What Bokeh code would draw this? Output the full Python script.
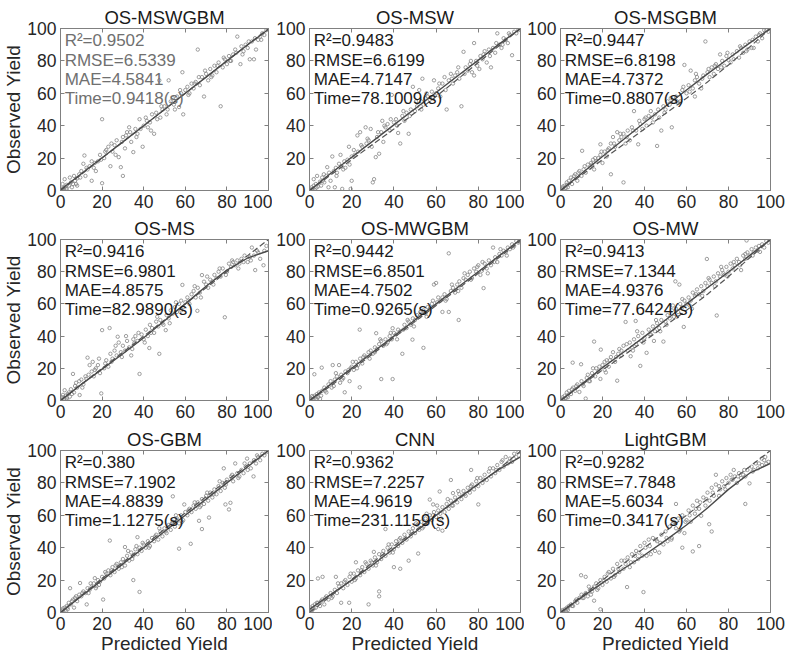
from bokeh.plotting import figure
from bokeh.models import Range1d, LinearAxis, Label, FixedTicker
from bokeh.layouts import column, row
from bokeh.embed import file_html
from bokeh.resources import INLINE

# ---------------- data ----------------
titles = ["OS-MSWGBM", "OS-MSW", "OS-MSGBM", "OS-MS", "OS-MWGBM", "OS-MW", "OS-GBM", "CNN", "LightGBM"]

r2 = ["0.9502", "0.9483", "0.9447", "0.9416", "0.9442", "0.9413", "0.380", "0.9362", "0.9282"]
rmse = ["6.5339", "6.6199", "6.8198", "6.9801", "6.8501", "7.1344", "7.1902", "7.2257", "7.7848"]
mae = ["4.5841", "4.7147", "4.7372", "4.8575", "4.7502", "4.9376", "4.8839", "4.9619", "5.6034"]
time_s = ["0.9418", "78.1009", "0.8807", "82.9890", "0.9265", "77.6424", "1.1275", "231.1159", "0.3417"]

ticks = [0, 20, 40, 60, 80, 100]
fit_x = [0, 10, 20, 30, 40, 50, 60, 70, 80, 90, 100]

fit_os_mswgbm = [0.5, 10.3, 20.2, 30, 40, 50, 60, 70, 80, 90, 99.5]
ref_os_mswgbm = [0, 10, 20, 30, 40, 50, 60, 70, 80, 90, 100]
fit_os_msw = [0, 10.5, 20.5, 30.5, 40.5, 50.5, 60.5, 70.5, 80.5, 90.5, 100]
ref_os_msw = [0, 9.5, 19, 28.5, 38, 48, 58, 68.5, 79, 89.5, 100]
fit_os_msgbm = [0, 10.5, 21, 31.5, 42, 52, 62, 72, 81.5, 91, 100]
ref_os_msgbm = [0, 9.5, 19, 28.5, 38, 47.5, 57, 67, 77.5, 88.5, 100]
fit_os_ms = [0, 10, 19.5, 29, 39, 49.5, 60, 71, 81, 88.5, 93]
ref_os_ms = [0, 10, 20, 30, 40, 50, 60, 70, 80, 90, 100]
fit_os_mwgbm = [0, 10, 20, 30, 40, 50, 60, 70, 80, 90, 100]
ref_os_mwgbm = [0, 9, 19, 29, 39, 49, 59, 69, 79, 89, 99]
fit_os_mw = [0, 10, 20.4, 30, 39.7, 50, 60, 70, 79.8, 90, 100]
ref_os_mw = [0, 9.5, 19, 28, 37, 46.5, 56, 66, 77, 88.5, 100]
fit_os_gbm = [0, 10, 20, 30, 40, 50, 60, 70, 80, 90, 100]
ref_os_gbm = [0, 10.5, 21, 31, 41, 51.5, 61.5, 71.5, 81.5, 91, 100]
fit_cnn = [2, 11, 20, 29.5, 39.5, 49.5, 60, 70, 79.5, 88.5, 96]
ref_cnn = [0, 10, 20.5, 31, 41, 50.5, 60, 69.5, 79, 89, 99.5]
fit_lightgbm = [0, 9.3, 18.3, 27, 35.5, 44.5, 54, 64.5, 76, 86, 92]
ref_lightgbm = [0, 10, 20, 30, 40, 50, 60, 70, 80, 90, 100]

pts_os_mswgbm = [(0.5,0.5),(1,1.5),(1.5,0.5),(2,2),(2.5,1),(3,3.5),(1,4),(2,7),(4,3),(5,5),(4.5,8),(6,4),(6.5,9),(7,6),(8,7.5),(9,10),(8,3),(10,12),(11,16.5),(11.5,21.6),(12,9),(13,13),(14,15),(15,6),(15,18),(16,14),(17,12),(18,18),(19,22),(20,4.5),(20,44),(21,20),(22,25),(23,27),(24,15),(25,24),(26,28),(27,31),(28,20.6),(29,14.4),(30,9),(30,33),(31,26),(32,36),(33,39),(34,30),(35,23.7),(36,38),(37,35),(38,44),(39.5,27),(40,40),(41,45),(42,39),(43,42),(44,47),(45,35),(46,48),(47.5,68),(48,45),(49,50),(50,52),(51,47),(52,68),(53,55),(54,57),(55,50),(56,58),(57,51.5),(58,60),(59,47),(58.6,73),(60,62),(61,64),(62,60),(63,66),(64,63),(65,67),(66,87),(67,65),(68,70),(69,58),(70,72),(71,68),(72,75),(73,71),(74,77),(75,73),(77,52),(76,79),(78,76),(79,81),(80,78),(81,83),(82,80),(83,84),(85,95),(84,87),(86.5,78),(87,89),(88,86),(89,90),(90,88),(91,81),(92,92),(93,81),(94,87),(95,93),(96,95),(97,97),(98,96),(99,99),
                 (3,1),(5.5,2),(7.5,4),(9.5,8),(12.5,14),(16.5,17),(19.5,19),(21.5,24),(24.5,29),(26.5,22),(29.5,30),(31.5,34),(33.5,36),(36.5,33),(38.5,38),(41.5,43),(43.5,37),(46.5,44),(48.5,52),(51.5,50),(54.5,53),(57.5,62),(61.5,59),(64.5,66),(66.5,70),(69.5,74),(72.5,70),(75.5,77),(78.5,82),(81.5,80),(84.5,85),(87.5,84),(90.5,92),(93.5,94),(96.5,93)]

pts_os_msw = [(0.5,0.5),(1,2),(1.5,1),(2,3),(2.5,0.5),(3,4),(3.6,9),(2,7),(4,2.5),(5,5.5),(5.5,3),(6,8),(6.8,10),(7,5),(8,9),(8.4,14.4),(9,2),(10,6),(10.8,21),(11.5,12),(12,2),(12.5,14),(13,11),(14,16.5),(14.7,22),(15.5,1),(15,15),(16,13),(17,14),(18,19),(18.7,27),(19.5,1),(20,6),(20,21),(21,25),(22.7,34),(23,24),(24,36),(25,27),(26.6,39),(27,29),(28,31),(29,38),(30,5),(30.6,7),(31.4,20.6),(32,33),(33,22.7),(34,36),(34.5,43),(35,30),(36,39),(37,41),(38,37),(39,59),(40,42),(41,44),(42,35.5),(43,29),(44,46),(45,43),(46,48),(47,35),(48,50),(49,64),(50,49),(51,52),(52,62),(53,55),(53.5,69),(54,53),(55,57),(56,58),(57,56),(58,61),(59,68),(60,60),(61,63),(62,58),(63,66),(64,70),(65,50),(66,68),(67,72),(68,66),(69,71),(70,73),(71,69),(72,52),(73,85.6),(74,76),(75,74),(76,78),(77,73),(78,71),(78,91),(79,80),(80.5,75),(81,83),(82,81),(83,86),(84,79),(85,87),(86,76),(87,88),(88,85),(89,97),(90,90),(91,88),(92,94),(93,93),(94,91),(95,96),(96,83.5),(97,98),(98,97),(99,99),
              (1.2,0.3),(3.3,1.8),(6.3,6),(9.3,11),(12.8,9),(16.5,18),(19,16),(21.5,22),(24.5,28),(27.5,32),(29.5,27),(32.5,36),(35.5,40),(38.5,44),(41.5,40),(44.5,49),(47.5,46),(50.5,55),(53,50),(55.5,60),(58.5,57),(61.5,66),(64.5,62),(67.5,69),(70.5,76),(73.5,72),(76.5,80),(79.5,77),(82.5,84),(85.5,83),(88.5,91),(91.5,90),(94.5,97)]

pts_os_msgbm = [(0.5,0.5),(1,1.5),(1.5,0.5),(2,3),(2.5,1.5),(3,5),(3.5,2),(4,6),(5,8),(5.5,4),(6,7),(7,10),(8,6),(9,12),(10,9),(10.3,24.5),(11,13),(12,11),(13,16),(14,14),(15,16),(15.5,19),(16,13),(17,18),(18,20),(19,22),(19,28.5),(20,17),(21,24),(22,21),(23,26),(24,10),(24,29),(25,33),(26,27),(27,36),(28,31),(29,33),(30,5),(30,35),(31,29),(32,37),(33,31),(34,39),(35,49),(36,37),(37,28.5),(38,41),(39,38),(40,44),(41,40),(42,46),(43,49),(44,42),(45,47),(46,27.5),(47,45),(48,37),(49,52),(50,50),(51,55),(52,53),(53,39),(54,55),(55,58),(56,54),(57,55),(58,62),(59,77.5),(60,60),(61,65),(62,74),(63,63),(64,68),(64,58),(65,70),(66,66),(67,63),(68,71),(69,92),(70,73),(71,70),(72,76),(73,72),(74,78),(75,75),(76,84),(77,80),(78,77),(79,83),(80,80.6),(81,79),(82,84),(84,86),(85,82),(86,88),(87,85),(88,90),(89,87),(90,92),(91,88),(92,88),(93,95),(94,92),(95,97),(96,94),(97,99),(98,99),(99,98),
                (1.2,2.5),(3.2,3.5),(6.5,9),(8.5,11),(11.5,15),(14.5,17),(16.5,20),(19.5,24),(22.5,25),(25.5,29),(28.5,35),(31.5,33),(34.5,37),(37.5,43),(40.5,45),(43.5,45),(46.5,50),(49.5,48),(52.5,57),(55.5,55),(58.5,64),(61.5,61),(64.5,72),(67.5,69),(70.5,75),(73.5,77),(76.5,76),(79.5,85),(82.5,81),(85.5,89),(88.5,86),(91.5,93),(94.5,96)]

pts_os_ms = [(0.5,0.5),(1,2),(1.5,1),(2,6.4),(2.5,3),(3,1.5),(3.5,4),(4,5),(4.5,2.4),(5,7),(6,16.5),(6.5,5),(7,9),(8,8),(9,12),(9.2,3.4),(10,13),(11,10),(12,15),(12.4,13.5),(13,26.6),(14,22),(15,18),(15.5,24),(16,15),(17,20),(18,22),(19,17),(19.6,4.4),(20,43.7),(21,20),(22,25),(23,21),(23.6,45),(24,29),(25,26),(26,31),(27,28),(27.5,39.6),(28,36),(29,30),(30,34),(31,31),(32,37),(33,33),(34,28),(35,38),(35.5,35.6),(36,40),(37,37),(38,16.5),(39,41),(40,38),(41,44),(42,40),(42.7,32.6),(43,47),(44,45),(45,42),(46,49),(47,46),(47.5,29),(48,50),(49,48),(50.6,43.7),(51,53),(52,51),(53,56),(54,54),(55,58),(56,55),(57,60),(58,62),(58.6,71.8),(59,58),(60,61),(61,64),(62,60),(63,66),(64,68),(65,64),(65.8,55.7),(66,70),(67,67),(68,77.9),(69,73.8),(70,72),(71,70),(72,75),(73,74),(74,78),(75,76),(76,80),(77,77),(78,82),(79,51.7),(80,80),(81,85),(82,83),(83,86),(84,84),(85,87),(86,85),(87,88),(88,86),(90,86),(91,89),(92,95),(93,90),(93.6,81),(95,92),(96,88),(97.6,84),(98,93),(99,96),
             (1.2,3.5),(3.2,0.5),(5.5,4),(7.5,11),(10.5,8),(13.5,16),(16.5,19),(18.5,26),(21.5,23),(24.5,24),(26.5,34),(29.5,27),(31.5,40),(34.5,32),(37.5,42),(40.5,36),(43.5,42),(46.5,52),(49.5,47),(52.5,48),(55.5,61),(58,56),(61.5,62),(64.5,71),(67.5,64),(70.5,77),(73.5,72),(76.5,82),(79.5,78),(82.5,87),(85.5,82),(88.5,90),(91.5,87),(94.5,93)]

pts_os_mwgbm = [(0.5,0.5),(1,1),(1.5,2),(2,0.5),(2.3,16.3),(2.5,3),(3,1),(3.5,4),(4,2),(4.5,5),(5,1),(5.8,20.4),(6,6),(7,8),(8,5),(9,10),(10,12),(11,22),(11.5,9),(12,13),(13,15),(14,22),(14.5,11),(15,16),(16,14),(16.7,5.1),(17,18),(18,17),(19,12),(19.5,20),(20,21),(21,19),(22,24),(23,22),(23.8,8.2),(23.8,44),(24,26),(25,23),(26,28),(27,27),(28,30),(29,31),(30,29),(31,33),(31.6,41.8),(32,32),(33,35),(34,13.3),(34,37),(35,34),(36,38),(37,36),(38,40),(39,38),(39.4,13.3),(39.4,44.9),(40,42),(41,41),(42,44),(43,43),(44,29),(45,47),(46,45),(47,49),(48,47),(48.8,37.8),(49,51),(50,50),(51,53),(52,52),(53,55),(54,32.7),(54,56),(55,54),(56,58),(57,57),(58,60),(59,72),(60,73),(60.5,61),(62,62),(63,55),(63,64),(64,66),(65,63),(66,55),(66,91.4),(67,68),(68,70),(69,67),(70,72),(70.7,50),(71,74),(72,70),(73,76),(74,75),(75,78),(76,80),(77,76),(78,82),(79,80),(80,84),(81,78),(81.7,80.6),(82.5,69.8),(83,85),(84,82),(85,87),(86,84),(87,95),(88,89),(89,86),(90,91),(91,90),(92,93),(93,92),(94,95),(95,94),(96,97),(97,96),(98,99),(99,98),
                (1.2,2.8),(3.2,2.4),(5.5,3),(7.5,6),(10.5,8),(12.5,17),(15.5,13),(18.5,19),(20.5,24),(22.5,20),(25.5,27),(28.5,26),(31,30),(33.5,38),(36.5,35),(38.5,42),(41.5,38),(44.5,44),(46.5,50),(49.5,46),(52.5,55),(55.5,52),(58.5,62),(61,64),(64.5,62),(67.5,72),(70.5,68),(73.5,79),(76.5,75),(79.5,83),(82,86),(84.5,79),(87.5,86),(90.5,94),(93.5,90),(96.5,95)]

pts_os_mw = [(0.5,0.5),(1,2),(1.5,0.5),(2,3),(2.5,1.5),(3,5),(3.5,2),(4,6),(5,4),(5.8,23.5),(6,8),(7,6),(8,10),(9,5.3),(9.8,22.5),(10,12),(11,9),(12,1.2),(12.5,14),(13,16),(14,12),(15,17),(16,36.6),(16.5,15),(17,20),(18,18),(19,13.4),(19.2,31.6),(20,22),(21,19),(21.6,17.4),(22,25),(23,21),(24,27),(25,30),(26,24),(27,12.3),(27.5,29),(28,32),(29,28),(30,34),(31,48.8),(32,31),(33,36),(33.4,27.5),(34,33),(35,38),(35.8,49.4),(36,35),(37,40),(38,21.5),(38.5,37),(39,42),(40,39),(41,29.6),(42,44),(43,41),(44,46),(44.5,37),(45,43),(46,48),(47,45),(48,50),(49,36.6),(50,49),(51,53),(52,51),(53,56),(54,52),(54.7,74),(55,57),(56,55),(56.6,72),(57,60),(58,58),(58.7,45.7),(59,62),(60,60),(61,64),(62,62),(62.6,57),(63,67),(64,65),(65,69),(66,66),(67,71),(68,68),(69,73),(69.7,87.9),(70,71),(71,75),(72,73),(73,77),(74,74),(74.4,52.8),(75,79),(76,77),(77,81),(77.6,79),(78,78),(79,83),(80,80),(81,85),(82,82),(83,84),(84,88),(85,86),(86,81),(87,90),(88,88),(88.6,99.4),(89,92),(90,90),(91,94),(92,92),(93,95),(94,93),(95,92.3),(96,97),(97,95),(98,99),(99,98),
             (1.2,1),(3.3,3),(5.5,7),(7.5,9),(10.5,10),(13.5,12),(15.5,20),(18.5,21),(21,24),(23.5,25),(26.5,27),(29,31),(31.5,35),(34.5,31),(36.5,43),(39.5,36),(42.5,41),(45.5,50),(47.5,43),(50.5,47),(53.5,59),(55.5,52),(58,63),(61.5,59),(64.5,66),(67.5,65),(70.5,76),(73.5,71),(76.5,83),(79.5,77),(82.5,86),(85.5,84),(88,91),(91.5,90),(94.5,96)]

pts_os_gbm = [(0.5,0.5),(1,1.5),(1.5,0.5),(2,3),(2.5,1),(3,4),(3.5,2),(4,6),(4.6,15),(5,5),(6,8),(6.5,3),(7,9),(8,7),(9,11),(9.4,18.2),(10,10),(11,13),(12,12),(12.6,5),(13,15),(14,14),(15,16),(16,18),(16.5,21.2),(17,15),(17.3,16.2),(18,20),(19,19),(20,22),(20.5,8),(21,21),(22,24),(23,26),(23.7,44.4),(24,23),(25,28),(26,25),(27,30),(28,27),(29,31),(30,33),(31,40.4),(31,29),(32,35),(33,32),(34,37),(35,20),(35,35),(36,39),(37,46.5),(37,36),(38,12.7),(38,40),(39,38),(40,42),(41,40),(42,44),(43,41),(44,46),(45,44),(46,48),(47,45),(48,50),(49,47),(50,52),(51,49),(52,54),(53,51),(54,71.7),(54,56),(55,53),(56,58),(57,39.4),(57,55),(58,60),(59,57),(59.5,66.7),(60,62),(61,60),(62,64),(62.6,42.4),(63,62),(64,66),(65,64),(66,68),(66.6,56.6),(67,65),(68,51.5),(68,70),(69,67),(70,72),(71,69),(71.4,58.6),(72,74),(73,71),(74,76),(75,73),(76,78),(77,75),(78,80),(78.5,89),(79,77),(79.3,66.7),(80,82),(81,63.6),(81.7,67.7),(82,84),(83,81),(84,92),(85,86),(86,84),(87,88),(88,86),(89,90),(89.7,95),(90,88),(91,92),(92.8,84),(93,94),(94,92),(95,96),(96,94),(97,98),(98,97),(99,99),
              (1.2,2.5),(3.3,3),(5.5,7),(7.5,10),(10.5,12),(13.5,12),(14.5,18),(18.5,17),(21.5,25),(24.5,26),(26.5,29),(29.5,28),(32.5,38),(34.5,33),(36.5,41),(39.5,43),(42.5,40),(45.5,47),(47.5,52),(50.5,50),(53.5,55),(55.5,60),(58.5,56),(61.5,63),(64.5,68),(67.5,66),(70.5,74),(73.5,73),(76.5,81),(79.5,79),(82.5,85),(85.5,83),(88.5,92),(91.5,89),(94.5,97)]

pts_cnn = [(0,2),(0.5,3),(1,1),(1.5,4),(2,2.5),(2.5,5),(3,3),(4,21),(4,6),(5,4),(6.2,22),(6,8),(7,5),(8,10),(9,8),(10,12),(11,10),(12,14),(12.5,22),(13,12),(14,16),(15,6),(15,18),(16,15),(17,20),(18,17),(18.8,6),(19,22),(20,19),(21,24),(22,31),(22,21),(23,26),(24,23),(25,28),(26,25),(27,30),(28,5),(28,27),(29,32),(30,29),(30.5,37.4),(31,34),(32,31),(33,10),(33,13),(33,36),(34,33),(35,38),(36,51.5),(36,35),(37,40),(38,37),(39,42),(40,28),(40,39),(41,44),(42,41),(43,27),(43,46),(44,43),(45,48),(46,45),(47,32),(47,50),(48,47),(49,52),(50,49),(51,54),(51.5,36.4),(52,51),(53,56),(54,53),(55,58),(56,55),(57,69.7),(57,60),(58,57),(58.6,66.7),(59,62),(60,59),(61,51.5),(61,63),(61.7,74.7),(62,61),(63,50.5),(63,65),(64,62),(65,67),(66,64),(67,81.8),(67,69),(68,73.7),(68,66),(69,71),(70,68),(71,73),(72,70),(73,75),(74,72),(75,77),(76,74),(76.6,88),(77,79),(78,76),(79,81),(80,66.7),(80,78),(81,83),(82,80),(83,85),(84,81.8),(85,87),(86,84),(87,89),(88,86),(89,91),(90,88),(91,93),(92,90),(93,96),(94,92),(95,95),(96,93),(97,98),(98,96),(99,99),
           (0.5,0.5),(1.5,2),(3.5,6),(5.5,7),(7.5,9),(10.5,9),(13.5,18),(16.5,19),(19.5,24),(21.5,20),(24.5,26),(26.5,31),(29.5,31),(31.5,29),(34.5,36),(37.5,42),(39.5,37),(42.5,45),(45.5,46),(48.5,50),(50.5,55),(53.5,52),(55.5,61),(58.5,60),(60.5,66),(62.5,58),(65.5,70),(67.5,66),(70.5,75),(73.5,73),(76.5,78),(79.5,83),(82.5,82),(85.5,89),(88.5,88),(91.5,94),(94.5,93)]

pts_lightgbm = [(0.5,0.5),(1,1.5),(1.5,0.5),(2,2),(2.5,1),(3,3),(3.5,1.5),(4,4),(5,5),(6,4),(7,7),(8,6),(9,9),(9.8,23),(10,11),(11,9),(12,22),(12,12),(13,10),(14,14),(15,13),(16,7.3),(16,16),(17,18),(18,15),(19,2),(19,20),(20,17),(21,22),(22,19),(23,25),(24,21),(25,27),(26,23),(27,30),(28,25),(29,32),(30,27),(31,30),(31.7,15.7),(32,34),(33,28),(34,36),(35,31),(36,38),(37,33),(38,41),(39,35),(39.5,12.6),(40,43),(41,35),(42,45),(43,36),(44,46),(45,38),(46,44),(47,37),(48,48),(49,42),(50,50),(51,44),(52,53),(52.8,45),(53,46),(54,56),(55,67),(55,52),(56,58),(57,51),(58,40),(58,60),(59,49),(60,57),(61,63),(62,56),(63,37.7),(63,66),(64,61),(65,69),(66,41),(66,64),(67,59.7),(68,71),(69,66),(70,74),(70.8,54.5),(71,69),(72,50),(72,77),(73,72),(74,85),(74,79),(75.5,72),(76,76),(77,81),(78,78),(79,83),(80,80),(81,85),(82,82),(82.5,88),(83,84),(84,80),(85,86),(86,83),(87,85),(88,67),(88,84),(89,88),(90,79.7),(91,90),(92,88),(93,92),(94,89),(95.8,95),(96,91),(97,94),(98,92),(99,93),
                (1.2,0.5),(3.3,2.5),(5.5,4),(7.5,8),(10.5,9),(13.5,16),(14.5,11),(17.5,14),(20.5,20),(22.5,24),(25.5,22),(27.5,27),(30.5,32),(33.5,31),(35.5,35),(37.5,37),(40.5,40),(42.5,41),(45.5,45),(47.5,43),(50.5,46),(53.5,55),(56.5,50),(59.5,56),(61.5,60),(64.5,64),(66.5,68),(69.5,70),(72.5,74),(75.5,78),(78.5,76),(81.5,82),(84.5,84),(87.5,88),(91.5,87),(94.5,92),(97.5,96)]

points = [pts_os_mswgbm, pts_os_msw, pts_os_msgbm, pts_os_ms, pts_os_mwgbm, pts_os_mw, pts_os_gbm, pts_cnn, pts_lightgbm]
fits = [fit_os_mswgbm, fit_os_msw, fit_os_msgbm, fit_os_ms, fit_os_mwgbm, fit_os_mw, fit_os_gbm, fit_cnn, fit_lightgbm]
refs = [ref_os_mswgbm, ref_os_msw, ref_os_msgbm, ref_os_ms, ref_os_mwgbm, ref_os_mw, ref_os_gbm, ref_cnn, ref_lightgbm]

# ---------------- layout ----------------
FONT = "Liberation Sans"
AX = "#808080"
col_w = [272, 252, 263]
col_bl = [58, 37, 36]
col_br = [4, 4, 17]
row_h = [214, 211, 231]
row_bt = [28, 21, 24]
row_bb = [24, 25, 44]


def style_axis(ax, show_labels=True):
    ax.ticker = FixedTicker(ticks=ticks)
    ax.major_tick_in = 4
    ax.major_tick_out = 0
    ax.minor_tick_line_color = None
    ax.axis_line_color = AX
    ax.major_tick_line_color = AX
    if show_labels:
        ax.major_label_text_font = FONT
        ax.major_label_text_font_size = "17.5px"
        ax.major_label_text_color = "#262626"
        ax.major_label_standoff = 4
    else:
        ax.major_label_overrides = {t: "" for t in ticks}
        ax.major_label_text_font_size = "1px"
        ax.major_label_standoff = 0


def panel(i):
    r, c = divmod(i, 3)
    p = figure(width=col_w[c], height=row_h[r], output_backend="svg", toolbar_location=None,
               x_range=Range1d(0, 100), y_range=Range1d(0, 100),
               min_border_left=col_bl[c], min_border_right=col_br[c],
               min_border_top=row_bt[r], min_border_bottom=row_bb[r],
               title=titles[i])
    p.title.align = "center"
    p.title.text_font = FONT
    p.title.text_font_size = "18.5px"
    p.title.text_font_style = "normal"
    p.title.text_color = "#1a1a1a"
    p.title.standoff = 2
    p.xgrid.visible = False
    p.ygrid.visible = False
    p.outline_line_color = AX
    p.background_fill_color = "white"
    p.border_fill_color = "white"
    xa = p.below[0]
    ya = p.left[0]
    style_axis(xa)
    style_axis(ya)
    top = LinearAxis()
    style_axis(top, False)
    p.add_layout(top, "above")
    right = LinearAxis()
    style_axis(right, False)
    p.add_layout(right, "right")
    if c == 0:
        ya.axis_label = "Observed Yield"
        ya.axis_label_text_font = FONT
        ya.axis_label_text_font_size = "19px"
        ya.axis_label_text_font_style = "normal"
        ya.axis_label_text_color = "#262626"
        ya.axis_label_standoff = 0
    if r == 2:
        xa.axis_label = "Predicted Yield"
        xa.axis_label_text_font = FONT
        xa.axis_label_text_font_size = "19px"
        xa.axis_label_text_font_style = "normal"
        xa.axis_label_text_color = "#262626"
        xa.axis_label_standoff = 0

    xs = [pt[0] for pt in points[i]]
    ys = [pt[1] for pt in points[i]]
    p.scatter(xs, ys, size=3.4, marker="circle", fill_color=None, line_color="#858585", line_width=0.8)
    p.line(fit_x, refs[i], line_color="#555555", line_width=1.2, line_dash="6 3")
    p.line(fit_x, fits[i], line_color="#4a4a4a", line_width=1.4)

    tcol = "#707070" if i == 0 else "#1a1a1a"
    texts = ["R\u00b2=" + r2[i], "RMSE=" + rmse[i], "MAE=" + mae[i], "Time=" + time_s[i] + "(s)"]
    ypos = [92.6, 80.4, 68.4, 56.8]
    for t, yy in zip(texts, ypos):
        p.add_layout(Label(x=2, y=yy, text=t, text_font=FONT, text_font_size="17px",
                           text_baseline="middle", text_color=tcol))
    return p


figs = [panel(i) for i in range(9)]
layout = column(row(*figs[0:3]), row(*figs[3:6]), row(*figs[6:9]))

open("out.html", "w").write(file_html(layout, INLINE))
